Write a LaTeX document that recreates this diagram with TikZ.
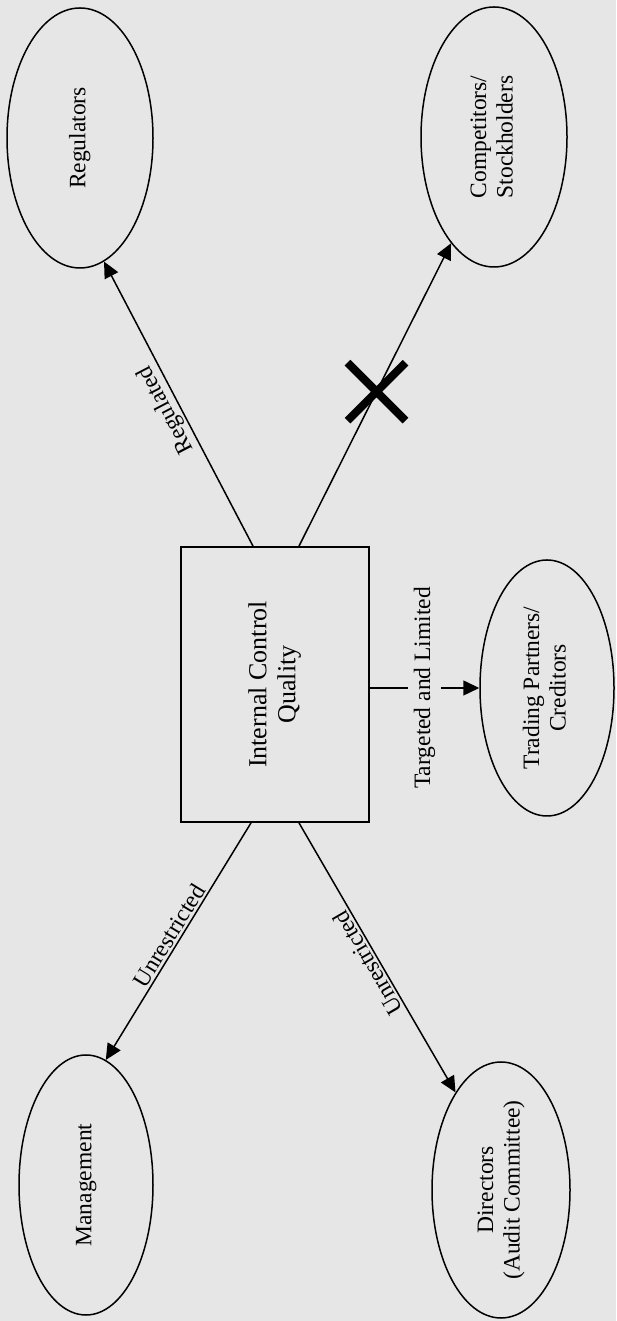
\documentclass[tikz,border=0pt]{standalone}
\usepackage{fontspec}
\setmainfont{Liberation Serif}
\usepackage{graphicx}
\usetikzlibrary{shapes.geometric,shapes.misc,arrows.meta}
\definecolor{bgcol}{RGB}{230,230,230}
\newcommand{\vtxt}[1]{\rotatebox{90}{\begin{tabular}{@{}c@{}}#1\end{tabular}}}
\begin{document}
\begin{tikzpicture}[x=1pt, y=1pt,
    >={Triangle[length=16pt,width=15pt]},
    every node/.style={font=\fontsize{23.5}{26.5}\selectfont},
    party/.style={draw=black, ellipse, line width=1.5pt, inner sep=0pt},
    conn/.style={draw=black, line width=1.5pt, ->},
    lbl/.style={inner sep=2pt},
    xmark/.style={draw=black, cross out, line width=8pt, minimum width=50pt, minimum height=50pt, inner sep=0pt}]
  \path[fill=bgcol, use as bounding box] (0,0) rectangle (616,1321);
  \node[draw=black, line width=1.8pt, fill=bgcol, minimum width=188pt, minimum height=275pt, font=\fontsize{26}{29}\selectfont] (icq) at (275,636.5) {\vtxt{Internal Control\\Quality}};
  \node[party, minimum width=146pt, minimum height=260pt] (reg) at (80,1183) {\vtxt{Regulators}};
  \node[party, minimum width=146pt, minimum height=260pt] (comp) at (494,1184) {\vtxt{Competitors/\\Stockholders}};
  \node[party, minimum width=134pt, minimum height=256pt] (trade) at (547,633) {\vtxt{Trading Partners/\\Creditors}};
  \node[party, minimum width=134pt, minimum height=260pt] (mgmt) at (86,136) {\vtxt{Management}};
  \node[party, minimum width=138pt, minimum height=256pt] (dir) at (501,131) {\vtxt{Directors\\(Audit Committee)}};
  \draw[conn] ([xshift=-22pt]icq.north) -- node[lbl, sloped, allow upside down, above] (reglbl) {Regulated} (reg.-79);
  \draw[conn] ([xshift=24pt]icq.north) -- node[xmark, pos=.51] (nogo) {} (comp.-112);
  \draw[conn] ([yshift=-3.5pt]icq.east) -- node[fill=bgcol, rotate=90, inner sep=6pt] (tllbl) {Targeted and Limited} (trade.west);
  \draw[conn] ([xshift=-24pt]icq.south) -- node[lbl, sloped, above] (mgmtlbl) {Unrestricted} (mgmt.81);
  \draw[conn, <-] (dir.115) -- node[lbl, sloped, allow upside down, above] (dirlbl) {Unrestricted} ([xshift=24pt]icq.south);
\end{tikzpicture}
\end{document}
